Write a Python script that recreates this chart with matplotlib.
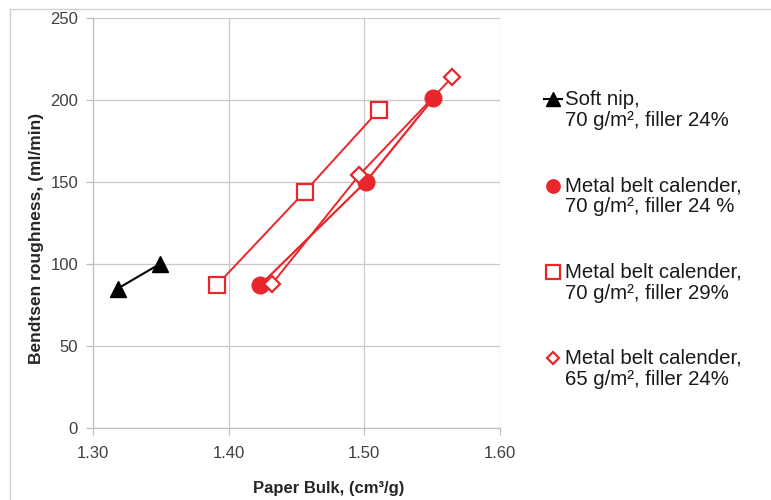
import matplotlib
matplotlib.use("Agg")
import matplotlib.pyplot as plt
from matplotlib.lines import Line2D
from matplotlib.legend_handler import HandlerLine2D

# ---- data ----
soft_x = [1.318, 1.349]
soft_y = [85, 100]
mb70_24_x = [1.423, 1.501, 1.551]
mb70_24_y = [87, 150, 201]
mb70_29_x = [1.391, 1.456, 1.511]
mb70_29_y = [87, 144, 194]
mb65_24_x = [1.432, 1.496, 1.565]
mb65_24_y = [88, 154, 214]

labels = ["Soft nip,\n70 g/m², filler 24%",
          "Metal belt calender,\n70 g/m², filler 24 %",
          "Metal belt calender,\n70 g/m², filler 29%",
          "Metal belt calender,\n65 g/m², filler 24%"]
xticks = [1.30, 1.40, 1.50, 1.60]
xticklabels = ["1.30", "1.40", "1.50", "1.60"]
yticks = [0, 50, 100, 150, 200, 250]

plt.rcParams['font.family'] = ['Liberation Sans', 'DejaVu Sans']


class FirstLineHandler(HandlerLine2D):
    """Place the legend marker at the height of the first text line."""
    def __init__(self, shift, show_line=True, **kw):
        super().__init__(**kw)
        self.shift = shift
        self.show_line = show_line

    def create_artists(self, legend, orig_handle, xdescent, ydescent,
                       width, height, fontsize, trans):
        arts = super().create_artists(legend, orig_handle, xdescent, ydescent,
                                      width, height, fontsize, trans)
        for a in arts:
            a.set_ydata([v + self.shift for v in a.get_ydata()])
            if not self.show_line:
                a.set_linestyle('None')
        return arts


W, H = 771, 500
fig = plt.figure(figsize=(W/100, H/100), dpi=100)
ax = fig.add_axes([93.3/W, 1-428/H, (499.8-93.3)/W, (428-18)/H])

red = '#E8262B'
l1, = ax.plot(soft_x, soft_y, color='black', lw=1.5, marker='^', ms=12, zorder=3)
l2, = ax.plot(mb70_24_x, mb70_24_y, color=red, lw=1.6, marker='o', ms=12, zorder=3)
l3, = ax.plot(mb70_29_x, mb70_29_y, color=red, lw=1.4, marker='s', ms=12,
              mfc='white', mec=red, mew=1.6, zorder=3)
l4, = ax.plot(mb65_24_x, mb65_24_y, color=red, lw=1.4, marker='D', ms=8,
              mfc='white', mec=red, mew=1.6, zorder=4)

ax.set_xlim(1.30, 1.60)
ax.set_ylim(0, 250)
ax.set_xticks(xticks)
ax.set_xticklabels(xticklabels)
ax.set_yticks(yticks)
ax.grid(True, color='#C8C8C8', lw=0.9)
ax.set_axisbelow(True)
for s in ['top', 'right']:
    ax.spines[s].set_visible(False)
for s in ['left', 'bottom']:
    ax.spines[s].set_color('#BEBEBE')
    ax.spines[s].set_linewidth(0.9)
ax.tick_params(axis='both', length=5, width=0.9, color='#BEBEBE',
               labelsize=12, labelcolor='#404040')
ax.tick_params(axis='x', pad=8)
ax.tick_params(axis='y', pad=6)

ax.set_xlabel("Paper Bulk, (cm³/g)", fontsize=12, fontweight='bold', color='#262626')
ax.xaxis.set_label_coords(0.58, -0.13)
ax.set_ylabel("Bendtsen roughness, (ml/min)", fontsize=12.5, fontweight='bold', color='#262626')
ax.yaxis.set_label_coords(-0.121, 0.463)

hm = {l1: FirstLineHandler(8.0, True),
      l2: FirstLineHandler(8.0, False),
      l3: FirstLineHandler(8.0, False),
      l4: FirstLineHandler(8.0, False)}
leg = ax.legend([l1, l2, l3, l4], labels, loc='upper left',
                bbox_to_anchor=(544/W, 1-90/H), handler_map=hm,
                bbox_transform=fig.transFigure, frameon=False, fontsize=14.7,
                handlelength=0.9, handletextpad=0.15, borderpad=0, borderaxespad=0,
                labelspacing=2.25, markerscale=0.8)
for t in leg.get_texts():
    t.set_linespacing(1.15)
    t.set_color('#1a1a1a')

# outer frame
fig.add_artist(Line2D([10/W, 1], [1-9/H, 1-9/H], transform=fig.transFigure, color='#D0D0D0', lw=1))
fig.add_artist(Line2D([10/W, 10/W], [0, 1-9/H], transform=fig.transFigure, color='#D0D0D0', lw=1))

fig.savefig("out.png", dpi=100)
